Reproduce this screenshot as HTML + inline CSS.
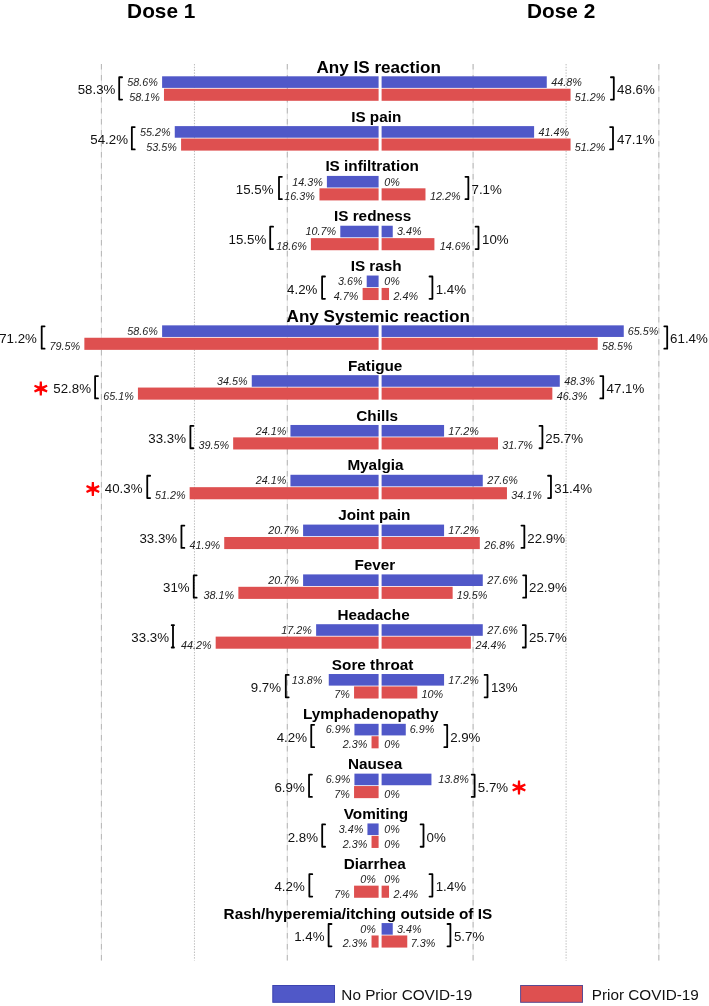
<!DOCTYPE html>
<html><head><meta charset="utf-8"><style>
html,body{margin:0;padding:0;background:#fff;}
body{width:709px;height:1006px;overflow:hidden;}
svg{display:block;will-change:transform;font-family:"Liberation Sans",sans-serif;}
</style></head><body>
<svg width="709" height="1006" viewBox="0 0 709 1006">
<line x1="101.4" y1="64" x2="101.4" y2="960.5" stroke="#e6e6e6" stroke-width="1"/>
<line x1="101.4" y1="64" x2="101.4" y2="960.5" stroke="#b6b6b6" stroke-width="1" stroke-dasharray="5.5 5.5"/>
<line x1="194.45" y1="64" x2="194.45" y2="960.5" stroke="#bcbcbc" stroke-width="1" stroke-dasharray="1.4 1.4"/>
<line x1="287.3" y1="64" x2="287.3" y2="960.5" stroke="#e6e6e6" stroke-width="1"/>
<line x1="287.3" y1="64" x2="287.3" y2="960.5" stroke="#b6b6b6" stroke-width="1" stroke-dasharray="5.5 5.5"/>
<line x1="473.1" y1="64" x2="473.1" y2="960.5" stroke="#e6e6e6" stroke-width="1"/>
<line x1="473.1" y1="64" x2="473.1" y2="960.5" stroke="#b6b6b6" stroke-width="1" stroke-dasharray="5.5 5.5"/>
<line x1="566.1" y1="64" x2="566.1" y2="960.5" stroke="#bcbcbc" stroke-width="1" stroke-dasharray="1.4 1.4"/>
<line x1="658.85" y1="64" x2="658.85" y2="960.5" stroke="#e6e6e6" stroke-width="1"/>
<line x1="658.85" y1="64" x2="658.85" y2="960.5" stroke="#b6b6b6" stroke-width="1" stroke-dasharray="5.5 5.5"/>
<rect x="162.11" y="76.3" width="216.49" height="11.6" fill="#5058C8"/>
<rect x="163.97" y="88.7" width="214.63" height="12.1" fill="#DE5050"/>
<rect x="381.6" y="76.3" width="165.16" height="11.6" fill="#5058C8"/>
<rect x="381.6" y="88.7" width="188.96" height="12.1" fill="#DE5050"/>
<text x="316.47" y="72.6" font-size="17.1" font-weight="bold" fill="#000">Any IS reaction</text>
<text x="127.35" y="85.9" font-size="10.8" font-style="italic" fill="#222">58.6%</text>
<text x="129.21" y="100.7" font-size="10.8" font-style="italic" fill="#222">58.1%</text>
<text x="551.19" y="85.9" font-size="10.8" font-style="italic" fill="#222">44.8%</text>
<text x="574.82" y="100.7" font-size="10.8" font-style="italic" fill="#222">51.2%</text>
<path d="M122.1 77.25H119.2V99.6H122.1" fill="none" stroke="#000" stroke-width="1.8" stroke-linejoin="round" stroke-linecap="round"/>
<path d="M610.9 77.25H613.8V99.6H610.9" fill="none" stroke="#000" stroke-width="1.8" stroke-linejoin="round" stroke-linecap="round"/>
<text transform="translate(77.66 94.35) scale(1 1.03)" font-size="13.3" fill="#111">58.3%</text>
<text transform="translate(617.09 94.35) scale(1 1.03)" font-size="13.3" fill="#111">48.6%</text>
<rect x="174.76" y="126.11" width="203.84" height="11.6" fill="#5058C8"/>
<rect x="181.08" y="138.51" width="197.52" height="12.1" fill="#DE5050"/>
<rect x="381.6" y="126.11" width="152.51" height="11.6" fill="#5058C8"/>
<rect x="381.6" y="138.51" width="188.96" height="12.1" fill="#DE5050"/>
<text x="351.18" y="121.66" font-size="15.3" font-weight="bold" fill="#000">IS pain</text>
<text x="140" y="135.71" font-size="10.8" font-style="italic" fill="#222">55.2%</text>
<text x="146.32" y="150.51" font-size="10.8" font-style="italic" fill="#222">53.5%</text>
<text x="538.54" y="135.71" font-size="10.8" font-style="italic" fill="#222">41.4%</text>
<text x="574.82" y="150.51" font-size="10.8" font-style="italic" fill="#222">51.2%</text>
<path d="M134.75 127.06H131.85V149.41H134.75" fill="none" stroke="#000" stroke-width="1.8" stroke-linejoin="round" stroke-linecap="round"/>
<path d="M610.1 127.06H613V149.41H610.1" fill="none" stroke="#000" stroke-width="1.8" stroke-linejoin="round" stroke-linecap="round"/>
<text transform="translate(90.26 144.16) scale(1 1.03)" font-size="13.3" fill="#111">54.2%</text>
<text transform="translate(616.99 144.16) scale(1 1.03)" font-size="13.3" fill="#111">47.1%</text>
<rect x="326.9" y="175.92" width="51.7" height="11.6" fill="#5058C8"/>
<rect x="319.46" y="188.32" width="59.14" height="12.1" fill="#DE5050"/>
<rect x="381.6" y="188.32" width="43.88" height="12.1" fill="#DE5050"/>
<text x="325.38" y="171.47" font-size="15.3" font-weight="bold" fill="#000">IS infiltration</text>
<text x="292.15" y="185.52" font-size="10.8" font-style="italic" fill="#222">14.3%</text>
<text x="284.34" y="200.32" font-size="10.8" font-style="italic" fill="#222">16.3%</text>
<text x="384.13" y="185.52" font-size="10.8" font-style="italic" fill="#222">0%</text>
<text x="429.92" y="200.32" font-size="10.8" font-style="italic" fill="#222">12.2%</text>
<path d="M281.9 176.87H279V199.22H281.9" fill="none" stroke="#000" stroke-width="1.8" stroke-linejoin="round" stroke-linecap="round"/>
<path d="M465.45 176.87H468.35V199.22H465.45" fill="none" stroke="#000" stroke-width="1.8" stroke-linejoin="round" stroke-linecap="round"/>
<text transform="translate(235.76 193.97) scale(1 1.03)" font-size="13.3" fill="#111">15.5%</text>
<text transform="translate(471.52 193.97) scale(1 1.03)" font-size="13.3" fill="#111">7.1%</text>
<rect x="340.3" y="225.73" width="38.3" height="11.6" fill="#5058C8"/>
<rect x="310.91" y="238.13" width="67.69" height="12.1" fill="#DE5050"/>
<rect x="381.6" y="225.73" width="11.15" height="11.6" fill="#5058C8"/>
<rect x="381.6" y="238.13" width="52.81" height="12.1" fill="#DE5050"/>
<text x="333.98" y="221.28" font-size="15.3" font-weight="bold" fill="#000">IS redness</text>
<text x="305.54" y="235.33" font-size="10.8" font-style="italic" fill="#222">10.7%</text>
<text x="276.15" y="250.13" font-size="10.8" font-style="italic" fill="#222">18.6%</text>
<text x="396.99" y="235.33" font-size="10.8" font-style="italic" fill="#222">3.4%</text>
<text x="439.72" y="250.13" font-size="10.8" font-style="italic" fill="#222">14.6%</text>
<path d="M273.1 226.68H270.2V249.03H273.1" fill="none" stroke="#000" stroke-width="1.8" stroke-linejoin="round" stroke-linecap="round"/>
<path d="M475.6 226.68H478.5V249.03H475.6" fill="none" stroke="#000" stroke-width="1.8" stroke-linejoin="round" stroke-linecap="round"/>
<text transform="translate(228.56 243.78) scale(1 1.03)" font-size="13.3" fill="#111">15.5%</text>
<text transform="translate(481.99 243.78) scale(1 1.03)" font-size="13.3" fill="#111">10%</text>
<rect x="366.71" y="275.54" width="11.89" height="11.6" fill="#5058C8"/>
<rect x="362.62" y="287.94" width="15.98" height="12.1" fill="#DE5050"/>
<rect x="381.6" y="287.94" width="7.43" height="12.1" fill="#DE5050"/>
<text x="350.68" y="271.09" font-size="15.3" font-weight="bold" fill="#000">IS rash</text>
<text x="337.96" y="285.14" font-size="10.8" font-style="italic" fill="#222">3.6%</text>
<text x="333.86" y="299.94" font-size="10.8" font-style="italic" fill="#222">4.7%</text>
<text x="384.13" y="285.14" font-size="10.8" font-style="italic" fill="#222">0%</text>
<text x="393.59" y="299.94" font-size="10.8" font-style="italic" fill="#222">2.4%</text>
<path d="M325 276.49H322.1V298.84H325" fill="none" stroke="#000" stroke-width="1.8" stroke-linejoin="round" stroke-linecap="round"/>
<path d="M429.5 276.49H432.4V298.84H429.5" fill="none" stroke="#000" stroke-width="1.8" stroke-linejoin="round" stroke-linecap="round"/>
<text transform="translate(287.06 293.59) scale(1 1.03)" font-size="13.3" fill="#111">4.2%</text>
<text transform="translate(435.69 293.59) scale(1 1.03)" font-size="13.3" fill="#111">1.4%</text>
<rect x="162.11" y="325.35" width="216.49" height="11.6" fill="#5058C8"/>
<rect x="84.36" y="337.75" width="294.24" height="12.1" fill="#DE5050"/>
<rect x="381.6" y="325.35" width="242.16" height="11.6" fill="#5058C8"/>
<rect x="381.6" y="337.75" width="216.12" height="12.1" fill="#DE5050"/>
<text x="286.57" y="321.65" font-size="17.1" font-weight="bold" fill="#000">Any Systemic reaction</text>
<text x="127.35" y="334.95" font-size="10.8" font-style="italic" fill="#222">58.6%</text>
<text x="49.6" y="349.75" font-size="10.8" font-style="italic" fill="#222">79.5%</text>
<text x="627.65" y="334.95" font-size="10.8" font-style="italic" fill="#222">65.5%</text>
<text x="601.98" y="349.75" font-size="10.8" font-style="italic" fill="#222">58.5%</text>
<path d="M44.6 326.3H41.7V348.65H44.6" fill="none" stroke="#000" stroke-width="1.8" stroke-linejoin="round" stroke-linecap="round"/>
<path d="M664.3 326.3H667.2V348.65H664.3" fill="none" stroke="#000" stroke-width="1.8" stroke-linejoin="round" stroke-linecap="round"/>
<text transform="translate(-0.84 343.4) scale(1 1.03)" font-size="13.3" fill="#111">71.2%</text>
<text transform="translate(670.12 343.4) scale(1 1.03)" font-size="13.3" fill="#111">61.4%</text>
<rect x="251.76" y="375.16" width="126.84" height="11.6" fill="#5058C8"/>
<rect x="137.93" y="387.56" width="240.67" height="12.1" fill="#DE5050"/>
<rect x="381.6" y="375.16" width="178.18" height="11.6" fill="#5058C8"/>
<rect x="381.6" y="387.56" width="170.74" height="12.1" fill="#DE5050"/>
<text x="347.98" y="370.71" font-size="15.3" font-weight="bold" fill="#000">Fatigue</text>
<text x="217" y="384.76" font-size="10.8" font-style="italic" fill="#222">34.5%</text>
<text x="103.17" y="399.56" font-size="10.8" font-style="italic" fill="#222">65.1%</text>
<text x="564.21" y="384.76" font-size="10.8" font-style="italic" fill="#222">48.3%</text>
<text x="556.77" y="399.56" font-size="10.8" font-style="italic" fill="#222">46.3%</text>
<path d="M98 376.11H95.1V398.46H98" fill="none" stroke="#000" stroke-width="1.8" stroke-linejoin="round" stroke-linecap="round"/>
<path d="M600.3 376.11H603.2V398.46H600.3" fill="none" stroke="#000" stroke-width="1.8" stroke-linejoin="round" stroke-linecap="round"/>
<text transform="translate(53.26 393.21) scale(1 1.03)" font-size="13.3" fill="#111">52.8%</text>
<text transform="translate(606.59 393.21) scale(1 1.03)" font-size="13.3" fill="#111">47.1%</text>
<rect x="290.45" y="424.97" width="88.15" height="11.6" fill="#5058C8"/>
<rect x="233.16" y="437.37" width="145.44" height="12.1" fill="#DE5050"/>
<rect x="381.6" y="424.97" width="62.48" height="11.6" fill="#5058C8"/>
<rect x="381.6" y="437.37" width="116.42" height="12.1" fill="#DE5050"/>
<text x="356.27" y="420.52" font-size="15.3" font-weight="bold" fill="#000">Chills</text>
<text x="255.69" y="434.57" font-size="10.8" font-style="italic" fill="#222">24.1%</text>
<text x="198.4" y="449.37" font-size="10.8" font-style="italic" fill="#222">39.5%</text>
<text x="448.3" y="434.57" font-size="10.8" font-style="italic" fill="#222">17.2%</text>
<text x="502.27" y="449.37" font-size="10.8" font-style="italic" fill="#222">31.7%</text>
<path d="M193.3 425.92H190.4V448.27H193.3" fill="none" stroke="#000" stroke-width="1.8" stroke-linejoin="round" stroke-linecap="round"/>
<path d="M539.5 425.92H542.4V448.27H539.5" fill="none" stroke="#000" stroke-width="1.8" stroke-linejoin="round" stroke-linecap="round"/>
<text transform="translate(148.26 443.02) scale(1 1.03)" font-size="13.3" fill="#111">33.3%</text>
<text transform="translate(545.33 443.02) scale(1 1.03)" font-size="13.3" fill="#111">25.7%</text>
<rect x="290.45" y="474.78" width="88.15" height="11.6" fill="#5058C8"/>
<rect x="189.64" y="487.18" width="188.96" height="12.1" fill="#DE5050"/>
<rect x="381.6" y="474.78" width="101.17" height="11.6" fill="#5058C8"/>
<rect x="381.6" y="487.18" width="125.35" height="12.1" fill="#DE5050"/>
<text x="347.38" y="470.33" font-size="15.3" font-weight="bold" fill="#000">Myalgia</text>
<text x="255.69" y="484.38" font-size="10.8" font-style="italic" fill="#222">24.1%</text>
<text x="154.88" y="499.18" font-size="10.8" font-style="italic" fill="#222">51.2%</text>
<text x="487.34" y="484.38" font-size="10.8" font-style="italic" fill="#222">27.6%</text>
<text x="511.2" y="499.18" font-size="10.8" font-style="italic" fill="#222">34.1%</text>
<path d="M150.15 475.73H147.25V498.08H150.15" fill="none" stroke="#000" stroke-width="1.8" stroke-linejoin="round" stroke-linecap="round"/>
<path d="M548.05 475.73H550.95V498.08H548.05" fill="none" stroke="#000" stroke-width="1.8" stroke-linejoin="round" stroke-linecap="round"/>
<text transform="translate(104.76 492.83) scale(1 1.03)" font-size="13.3" fill="#111">40.3%</text>
<text transform="translate(554.29 492.83) scale(1 1.03)" font-size="13.3" fill="#111">31.4%</text>
<rect x="303.1" y="524.59" width="75.5" height="11.6" fill="#5058C8"/>
<rect x="224.23" y="536.99" width="154.37" height="12.1" fill="#DE5050"/>
<rect x="381.6" y="524.59" width="62.48" height="11.6" fill="#5058C8"/>
<rect x="381.6" y="536.99" width="98.2" height="12.1" fill="#DE5050"/>
<text x="338.17" y="520.14" font-size="15.3" font-weight="bold" fill="#000">Joint pain</text>
<text x="268.34" y="534.19" font-size="10.8" font-style="italic" fill="#222">20.7%</text>
<text x="189.47" y="548.99" font-size="10.8" font-style="italic" fill="#222">41.9%</text>
<text x="448.3" y="534.19" font-size="10.8" font-style="italic" fill="#222">17.2%</text>
<text x="484.36" y="548.99" font-size="10.8" font-style="italic" fill="#222">26.8%</text>
<path d="M184.35 525.54H181.45V547.89H184.35" fill="none" stroke="#000" stroke-width="1.8" stroke-linejoin="round" stroke-linecap="round"/>
<path d="M521.45 525.54H524.35V547.89H521.45" fill="none" stroke="#000" stroke-width="1.8" stroke-linejoin="round" stroke-linecap="round"/>
<text transform="translate(139.46 542.64) scale(1 1.03)" font-size="13.3" fill="#111">33.3%</text>
<text transform="translate(527.33 542.64) scale(1 1.03)" font-size="13.3" fill="#111">22.9%</text>
<rect x="303.1" y="574.4" width="75.5" height="11.6" fill="#5058C8"/>
<rect x="238.37" y="586.8" width="140.23" height="12.1" fill="#DE5050"/>
<rect x="381.6" y="574.4" width="101.17" height="11.6" fill="#5058C8"/>
<rect x="381.6" y="586.8" width="71.04" height="12.1" fill="#DE5050"/>
<text x="354.48" y="569.95" font-size="15.3" font-weight="bold" fill="#000">Fever</text>
<text x="268.34" y="584" font-size="10.8" font-style="italic" fill="#222">20.7%</text>
<text x="203.61" y="598.8" font-size="10.8" font-style="italic" fill="#222">38.1%</text>
<text x="487.34" y="584" font-size="10.8" font-style="italic" fill="#222">27.6%</text>
<text x="456.86" y="598.8" font-size="10.8" font-style="italic" fill="#222">19.5%</text>
<path d="M196.65 575.35H193.75V597.7H196.65" fill="none" stroke="#000" stroke-width="1.8" stroke-linejoin="round" stroke-linecap="round"/>
<path d="M523.15 575.35H526.05V597.7H523.15" fill="none" stroke="#000" stroke-width="1.8" stroke-linejoin="round" stroke-linecap="round"/>
<text transform="translate(163.05 592.45) scale(1 1.03)" font-size="13.3" fill="#111">31%</text>
<text transform="translate(529.03 592.45) scale(1 1.03)" font-size="13.3" fill="#111">22.9%</text>
<rect x="316.12" y="624.21" width="62.48" height="11.6" fill="#5058C8"/>
<rect x="215.68" y="636.61" width="162.92" height="12.1" fill="#DE5050"/>
<rect x="381.6" y="624.21" width="101.17" height="11.6" fill="#5058C8"/>
<rect x="381.6" y="636.61" width="89.27" height="12.1" fill="#DE5050"/>
<text x="337.38" y="619.76" font-size="15.3" font-weight="bold" fill="#000">Headache</text>
<text x="281.36" y="633.81" font-size="10.8" font-style="italic" fill="#222">17.2%</text>
<text x="180.92" y="648.61" font-size="10.8" font-style="italic" fill="#222">44.2%</text>
<text x="487.34" y="633.81" font-size="10.8" font-style="italic" fill="#222">27.6%</text>
<text x="475.43" y="648.61" font-size="10.8" font-style="italic" fill="#222">24.4%</text>
<path d="M171.7 625.16H174.0M173.0 625.16V647.51M171.7 647.51H174.0" fill="none" stroke="#000" stroke-width="1.8" stroke-linejoin="round" stroke-linecap="round"/>
<path d="M522.8 625.16H525.7V647.51H522.8" fill="none" stroke="#000" stroke-width="1.8" stroke-linejoin="round" stroke-linecap="round"/>
<text transform="translate(131.36 642.26) scale(1 1.03)" font-size="13.3" fill="#111">33.3%</text>
<text transform="translate(529.03 642.26) scale(1 1.03)" font-size="13.3" fill="#111">25.7%</text>
<rect x="328.76" y="674.02" width="49.84" height="11.6" fill="#5058C8"/>
<rect x="354.06" y="686.42" width="24.54" height="12.1" fill="#DE5050"/>
<rect x="381.6" y="674.02" width="62.48" height="11.6" fill="#5058C8"/>
<rect x="381.6" y="686.42" width="35.7" height="12.1" fill="#DE5050"/>
<text x="331.86" y="669.57" font-size="15.3" font-weight="bold" fill="#000">Sore throat</text>
<text x="291.74" y="683.62" font-size="10.8" font-style="italic" fill="#222">13.8%</text>
<text x="334.31" y="698.42" font-size="10.8" font-style="italic" fill="#222">7%</text>
<text x="448.3" y="683.62" font-size="10.8" font-style="italic" fill="#222">17.2%</text>
<text x="421.52" y="698.42" font-size="10.8" font-style="italic" fill="#222">10%</text>
<path d="M288.7 674.97H285.8V697.32H288.7" fill="none" stroke="#000" stroke-width="1.8" stroke-linejoin="round" stroke-linecap="round"/>
<path d="M484.6 674.97H487.5V697.32H484.6" fill="none" stroke="#000" stroke-width="1.8" stroke-linejoin="round" stroke-linecap="round"/>
<text transform="translate(250.76 692.07) scale(1 1.03)" font-size="13.3" fill="#111">9.7%</text>
<text transform="translate(490.89 692.07) scale(1 1.03)" font-size="13.3" fill="#111">13%</text>
<rect x="354.43" y="723.83" width="24.17" height="11.6" fill="#5058C8"/>
<rect x="371.54" y="736.23" width="7.06" height="12.1" fill="#DE5050"/>
<rect x="381.6" y="723.83" width="24.17" height="11.6" fill="#5058C8"/>
<text x="302.98" y="719.38" font-size="15.3" font-weight="bold" fill="#000">Lymphadenopathy</text>
<text x="325.68" y="733.43" font-size="10.8" font-style="italic" fill="#222">6.9%</text>
<text x="342.79" y="748.23" font-size="10.8" font-style="italic" fill="#222">2.3%</text>
<text x="409.66" y="733.43" font-size="10.8" font-style="italic" fill="#222">6.9%</text>
<text x="384.13" y="748.23" font-size="10.8" font-style="italic" fill="#222">0%</text>
<path d="M314.15 724.78H311.25V747.13H314.15" fill="none" stroke="#000" stroke-width="1.8" stroke-linejoin="round" stroke-linecap="round"/>
<path d="M444.3 724.78H447.2V747.13H444.3" fill="none" stroke="#000" stroke-width="1.8" stroke-linejoin="round" stroke-linecap="round"/>
<text transform="translate(276.66 741.88) scale(1 1.03)" font-size="13.3" fill="#111">4.2%</text>
<text transform="translate(450.13 741.88) scale(1 1.03)" font-size="13.3" fill="#111">2.9%</text>
<rect x="354.43" y="773.64" width="24.17" height="11.6" fill="#5058C8"/>
<rect x="354.06" y="786.04" width="24.54" height="12.1" fill="#DE5050"/>
<rect x="381.6" y="773.64" width="49.84" height="11.6" fill="#5058C8"/>
<text x="347.88" y="769.19" font-size="15.3" font-weight="bold" fill="#000">Nausea</text>
<text x="325.68" y="783.24" font-size="10.8" font-style="italic" fill="#222">6.9%</text>
<text x="334.31" y="798.04" font-size="10.8" font-style="italic" fill="#222">7%</text>
<text x="438.32" y="783.24" font-size="10.8" font-style="italic" fill="#222">13.8%</text>
<text x="384.13" y="798.04" font-size="10.8" font-style="italic" fill="#222">0%</text>
<path d="M311.95 774.59H309.05V796.94H311.95" fill="none" stroke="#000" stroke-width="1.8" stroke-linejoin="round" stroke-linecap="round"/>
<path d="M471.7 774.59H474.6V796.94H471.7" fill="none" stroke="#000" stroke-width="1.8" stroke-linejoin="round" stroke-linecap="round"/>
<text transform="translate(274.46 791.69) scale(1 1.03)" font-size="13.3" fill="#111">6.9%</text>
<text transform="translate(477.87 791.69) scale(1 1.03)" font-size="13.3" fill="#111">5.7%</text>
<rect x="367.45" y="823.45" width="11.15" height="11.6" fill="#5058C8"/>
<rect x="371.54" y="835.85" width="7.06" height="12.1" fill="#DE5050"/>
<text x="343.8" y="819" font-size="15.3" font-weight="bold" fill="#000">Vomiting</text>
<text x="338.7" y="833.05" font-size="10.8" font-style="italic" fill="#222">3.4%</text>
<text x="342.79" y="847.85" font-size="10.8" font-style="italic" fill="#222">2.3%</text>
<text x="384.13" y="833.05" font-size="10.8" font-style="italic" fill="#222">0%</text>
<text x="384.13" y="847.85" font-size="10.8" font-style="italic" fill="#222">0%</text>
<path d="M325.1 824.4H322.2V846.75H325.1" fill="none" stroke="#000" stroke-width="1.8" stroke-linejoin="round" stroke-linecap="round"/>
<path d="M420.6 824.4H423.5V846.75H420.6" fill="none" stroke="#000" stroke-width="1.8" stroke-linejoin="round" stroke-linecap="round"/>
<text transform="translate(287.66 841.5) scale(1 1.03)" font-size="13.3" fill="#111">2.8%</text>
<text transform="translate(426.48 841.5) scale(1 1.03)" font-size="13.3" fill="#111">0%</text>
<rect x="354.06" y="885.66" width="24.54" height="12.1" fill="#DE5050"/>
<rect x="381.6" y="885.66" width="7.43" height="12.1" fill="#DE5050"/>
<text x="343.68" y="868.81" font-size="15.3" font-weight="bold" fill="#000">Diarrhea</text>
<text x="360.35" y="882.86" font-size="10.8" font-style="italic" fill="#222">0%</text>
<text x="334.31" y="897.66" font-size="10.8" font-style="italic" fill="#222">7%</text>
<text x="384.13" y="882.86" font-size="10.8" font-style="italic" fill="#222">0%</text>
<text x="393.59" y="897.66" font-size="10.8" font-style="italic" fill="#222">2.4%</text>
<path d="M312.25 874.21H309.35V896.56H312.25" fill="none" stroke="#000" stroke-width="1.8" stroke-linejoin="round" stroke-linecap="round"/>
<path d="M429.5 874.21H432.4V896.56H429.5" fill="none" stroke="#000" stroke-width="1.8" stroke-linejoin="round" stroke-linecap="round"/>
<text transform="translate(274.46 891.31) scale(1 1.03)" font-size="13.3" fill="#111">4.2%</text>
<text transform="translate(435.69 891.31) scale(1 1.03)" font-size="13.3" fill="#111">1.4%</text>
<rect x="371.54" y="935.47" width="7.06" height="12.1" fill="#DE5050"/>
<rect x="381.6" y="923.07" width="11.15" height="11.6" fill="#5058C8"/>
<rect x="381.6" y="935.47" width="25.66" height="12.1" fill="#DE5050"/>
<text x="223.58" y="918.62" font-size="15.3" font-weight="bold" fill="#000">Rash/hyperemia/itching outside of IS</text>
<text x="360.35" y="932.67" font-size="10.8" font-style="italic" fill="#222">0%</text>
<text x="342.79" y="947.47" font-size="10.8" font-style="italic" fill="#222">2.3%</text>
<text x="396.99" y="932.67" font-size="10.8" font-style="italic" fill="#222">3.4%</text>
<text x="410.64" y="947.47" font-size="10.8" font-style="italic" fill="#222">7.3%</text>
<path d="M331.5 924.02H328.6V946.37H331.5" fill="none" stroke="#000" stroke-width="1.8" stroke-linejoin="round" stroke-linecap="round"/>
<path d="M447.5 924.02H450.4V946.37H447.5" fill="none" stroke="#000" stroke-width="1.8" stroke-linejoin="round" stroke-linecap="round"/>
<text transform="translate(294.16 941.12) scale(1 1.03)" font-size="13.3" fill="#111">1.4%</text>
<text transform="translate(453.97 941.12) scale(1 1.03)" font-size="13.3" fill="#111">5.7%</text>
<path d="M42.25 388.6L41.85 381.6L39.75 381.6L39.35 388.6ZM39.35 388.6L39.75 395.6L41.85 395.6L42.25 388.6ZM41.41 389.91L47.59 386.59L46.7 384.69L40.19 387.29ZM40.19 387.29L34.01 390.61L34.9 392.51L41.41 389.91ZM40.19 389.91L46.7 392.51L47.59 390.61L41.41 387.29ZM41.41 387.29L34.9 384.69L34.01 386.59L40.19 389.91Z" fill="#f00"/>
<circle cx="40.8" cy="388.6" r="1.6" fill="#f00"/>
<path d="M94.3 489L93.9 482L91.8 482L91.4 489ZM91.4 489L91.8 496L93.9 496L94.3 489ZM93.46 490.31L99.64 486.99L98.75 485.09L92.24 487.69ZM92.24 487.69L86.06 491.01L86.95 492.91L93.46 490.31ZM92.24 490.31L98.75 492.91L99.64 491.01L93.46 487.69ZM93.46 487.69L86.95 485.09L86.06 486.99L92.24 490.31Z" fill="#f00"/>
<circle cx="92.85" cy="489" r="1.6" fill="#f00"/>
<path d="M520.45 787.5L520.05 780.5L517.95 780.5L517.55 787.5ZM517.55 787.5L517.95 794.5L520.05 794.5L520.45 787.5ZM519.61 788.81L525.79 785.49L524.9 783.59L518.39 786.19ZM518.39 786.19L512.21 789.51L513.1 791.41L519.61 788.81ZM518.39 788.81L524.9 791.41L525.79 789.51L519.61 786.19ZM519.61 786.19L513.1 783.59L512.21 785.49L518.39 788.81Z" fill="#f00"/>
<circle cx="519" cy="787.5" r="1.6" fill="#f00"/>
<text x="127.11" y="17.7" font-size="20.8" font-weight="bold" fill="#000">Dose 1</text>
<text x="527.01" y="17.7" font-size="20.8" font-weight="bold" fill="#000">Dose 2</text>
<rect x="272.8" y="985.5" width="61.7" height="16.8" fill="#5058C8" stroke="#3c44b0" stroke-width="1"/>
<rect x="520.6" y="985.5" width="61.9" height="16.8" fill="#DE5050" stroke="#5a4a92" stroke-width="1"/>
<text x="341.34" y="1000.4" font-size="15.3" fill="#111">No Prior COVID-19</text>
<text x="591.74" y="1000.4" font-size="15.3" fill="#111">Prior COVID-19</text>
</svg>
</body></html>
